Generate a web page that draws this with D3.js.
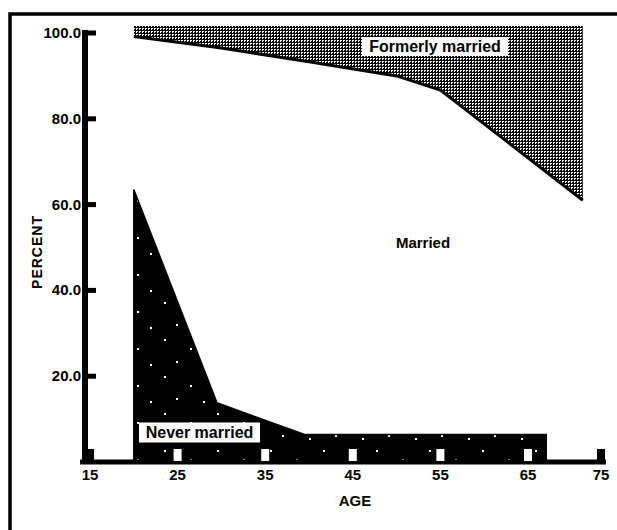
<!DOCTYPE html>
<html>
<head>
<meta charset="utf-8">
<script src="https://cdn.jsdelivr.net/npm/d3@7"></script>
<style>
    body { margin: 0; background: #fff; overflow: hidden; }
    svg { display: block; }
    text { font-family: "Liberation Sans", Arial, sans-serif; fill: #000; }
</style>
</head>
<body>
<script>
// tick labels
var ageTicks = [15, 25, 35, 45, 55, 65, 75];
var percentTicks = [20, 40, 60, 80, 100];

// lower edge of "Formerly married" band (percent from the bottom)
var formerAges = [20, 30, 40, 50, 55, 72.5];
var formerPct = [99.2, 96.5, 93.3, 90.0, 86.7, 61.0];

// top edge of "Never married" band
var neverAges = [20, 29.5, 39.5, 67.5];
var neverPct = [63.5, 13.8, 6.4, 6.4];

var width = 617, height = 530;

var svg = d3.select("body")
            .append("svg")
            .attr("width", width)
            .attr("height", height);

// the age axis is squeezed between 65 and 75 in the original
var x = d3.scaleLinear()
          .domain([15, 65, 75])
          .range([90, 528, 601]);

var y = d3.scaleLinear()
          .domain([0, 100])
          .range([462, 33]);

var defs = svg.append("defs");

// halftone screen for formerly married
var screen = defs.append("pattern")
                 .attr("id", "screen")
                 .attr("patternUnits", "userSpaceOnUse")
                 .attr("width", 3)
                 .attr("height", 3);
screen.append("rect").attr("width", 3).attr("height", 3).attr("fill", "#000");
screen.append("rect").attr("x", 1).attr("y", 1).attr("width", 2).attr("height", 1).attr("fill", "#fff");
screen.append("rect").attr("x", 1).attr("y", 2).attr("width", 1).attr("height", 1).attr("fill", "#fff");

// black with a few white specks for never married
var specks = defs.append("pattern")
                 .attr("id", "specks")
                 .attr("patternUnits", "userSpaceOnUse")
                 .attr("width", 53)
                 .attr("height", 37);
specks.append("rect").attr("width", 53).attr("height", 37).attr("fill", "#000");
[[5, 6], [31, 15], [17, 28], [44, 31]].forEach(function(p) {
    specks.append("rect")
          .attr("x", p[0]).attr("y", p[1])
          .attr("width", 2).attr("height", 2)
          .attr("fill", "#fff");
});

// frame: only the top and left edges fall inside the picture
svg.append("path")
   .attr("d", "M10," + height + "V14H" + width)
   .attr("fill", "none")
   .attr("stroke", "#000")
   .attr("stroke-width", 3.5);

var former = formerAges.map(function(a, i) { return [a, formerPct[i]]; });
var never = neverAges.map(function(a, i) { return [a, neverPct[i]]; });

var formerArea = d3.area()
                   .x(d => x(d[0]))
                   .y0(y(100) - 7)
                   .y1(d => y(d[1]));

svg.append("path")
   .datum(former)
   .attr("d", formerArea)
   .attr("fill", "url(#screen)");

svg.append("path")
   .datum(former)
   .attr("d", d3.line().x(d => x(d[0])).y(d => y(d[1])))
   .attr("fill", "none")
   .attr("stroke", "#000")
   .attr("stroke-width", 3);

var neverArea = d3.area()
                  .x(d => x(d[0]))
                  .y0(y(0))
                  .y1(d => y(d[1]));

svg.append("path")
   .datum(never)
   .attr("d", neverArea)
   .attr("fill", "url(#specks)")
   .attr("stroke", "#000")
   .attr("stroke-width", 1.5);

// y axis
svg.append("rect")
   .attr("x", 82)
   .attr("y", 30)
   .attr("width", 6)
   .attr("height", y(0) - 28);

svg.selectAll(".ytick")
   .data(percentTicks).enter()
   .append("rect")
   .attr("class", "ytick")
   .attr("x", 86)
   .attr("y", d => y(d) - 2.5)
   .attr("width", 10)
   .attr("height", 5);

svg.selectAll(".ylabel")
   .data(percentTicks).enter()
   .append("text")
   .attr("class", "ylabel")
   .attr("x", 81)
   .attr("y", d => y(d) + 5)
   .attr("text-anchor", "end")
   .attr("font-size", 15)
   .attr("font-weight", "bold")
   .text(d => d.toFixed(1));

// x axis
svg.append("rect")
   .attr("x", 80)
   .attr("y", y(0) - 2.5)
   .attr("width", x(75) + 5 - 80)
   .attr("height", 5);

svg.selectAll(".xtick")
   .data(ageTicks).enter()
   .append("rect")
   .attr("class", "xtick")
   .attr("x", d => x(d) - 4)
   .attr("y", y(0) - 13)
   .attr("width", 8)
   .attr("height", 12)
   .attr("fill", d => (d > neverAges[0] && d < neverAges[neverAges.length - 1]) ? "#fff" : "#000");

svg.selectAll(".xlabel")
   .data(ageTicks).enter()
   .append("text")
   .attr("class", "xlabel")
   .attr("x", d => x(d))
   .attr("y", 480)
   .attr("text-anchor", "middle")
   .attr("font-size", 15)
   .attr("font-weight", "bold")
   .text(d => d);

// axis titles
svg.append("text")
   .attr("transform", "translate(42,252) rotate(-90)")
   .attr("text-anchor", "middle")
   .attr("font-size", 14)
   .attr("font-weight", "bold")
   .attr("letter-spacing", 1)
   .text("PERCENT");

svg.append("text")
   .attr("x", 355)
   .attr("y", 506)
   .attr("text-anchor", "middle")
   .attr("font-size", 15)
   .attr("font-weight", "bold")
   .text("AGE");

// band labels
function boxLabel(cx, cy, w, h, label) {
    svg.append("rect")
       .attr("x", cx - w / 2)
       .attr("y", cy - h / 2)
       .attr("width", w)
       .attr("height", h)
       .attr("fill", "#fff");
    svg.append("text")
       .attr("x", cx)
       .attr("y", cy + 5.5)
       .attr("text-anchor", "middle")
       .attr("font-size", 16)
       .attr("font-weight", "bold")
       .text(label);
}

boxLabel(435, 46.5, 146, 19, "Formerly married");
boxLabel(199.5, 432.5, 121, 20, "Never married");

svg.append("text")
   .attr("x", 423)
   .attr("y", 248)
   .attr("text-anchor", "middle")
   .attr("font-size", 15)
   .attr("font-weight", "bold")
   .text("Married");
</script>
</body>
</html>
